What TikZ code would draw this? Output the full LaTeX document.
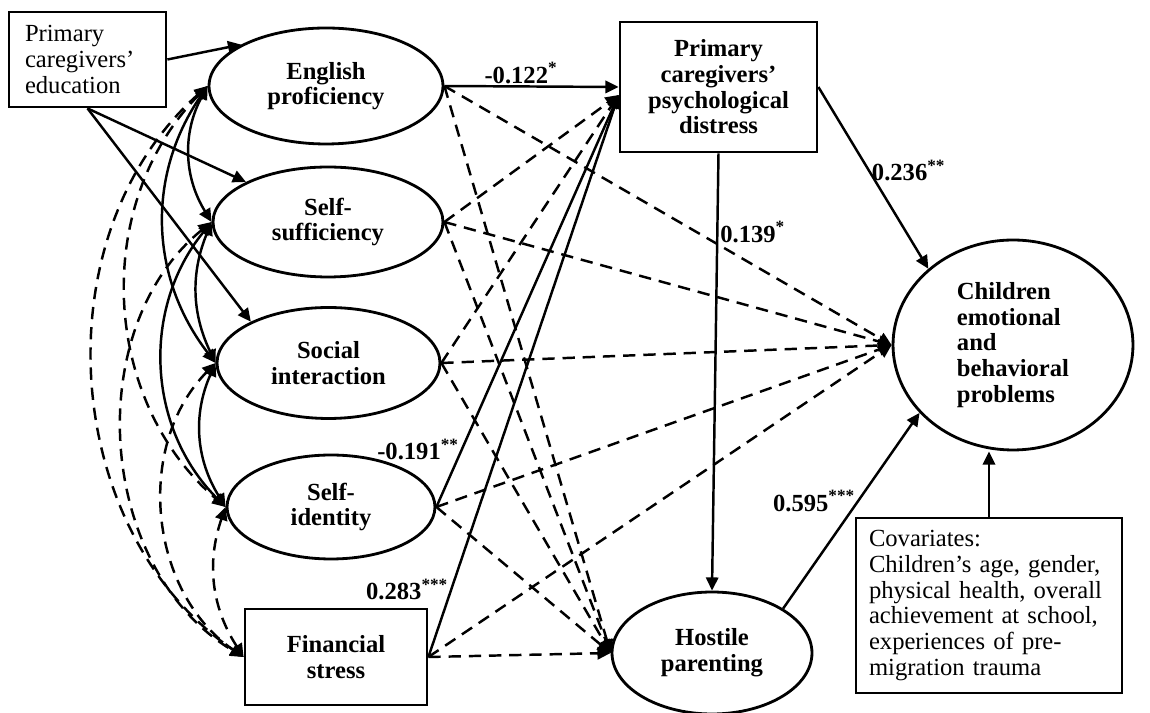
\documentclass[tikz,border=0pt]{standalone}
\usepackage{fontspec}
\setmainfont{Liberation Serif}
\usetikzlibrary{shapes.geometric, arrows.meta}
\newcommand{\figfont}{\fontsize{14}{14.6}\selectfont}

\begin{document}
\begin{tikzpicture}[x=0.02cm, y=0.02cm, font=\figfont,
  Observed/.style={draw, line width=1.6pt, align=center, inner sep=2pt},
  Latent/.style={ellipse, draw, line width=1.6pt, align=center, inner sep=0pt, font=\figfont\bfseries},
  Effect/.style={-{Triangle[length=7.5pt, width=7pt]}, line width=1.4pt},
  Weak/.style={Effect, dash pattern=on 7pt off 4.5pt},
  Covary/.style={{Triangle[length=7.5pt, width=7pt]}-{Triangle[length=7.5pt, width=7pt]}, line width=1.4pt},
  WeakCovary/.style={Covary, dash pattern=on 7pt off 4.5pt},
  Coef/.style={font=\figfont\bfseries, inner sep=1pt}]

\useasboundingbox (0,0) rectangle (1150,713);

\node [Observed, minimum width=3.14cm, minimum height=1.9cm, text width=2.5cm, align=left] (edu) at (87.5,653.5) {Primary\\caregivers'\\education};

\node [Latent, minimum width=4.68cm, minimum height=2.32cm] (eng) at (326,627) {English\\proficiency};
\node [Latent, minimum width=4.6cm, minimum height=2.2cm] (suff) at (328,491) {Self-\\sufficiency};
\node [Latent, minimum width=4.46cm, minimum height=2.22cm] (soc) at (328.5,350) {Social\\interaction};
\node [Latent, minimum width=4.16cm, minimum height=2.08cm] (iden) at (331,206) {Self-\\identity};
\node [Observed, font=\figfont\bfseries, minimum width=3.64cm, minimum height=1.92cm] (fin) at (336,56) {Financial\\stress};

\node [Observed, font=\figfont\bfseries, minimum width=3.94cm, minimum height=2.6cm] (dist) at (718.5,626) {Primary\\caregivers'\\psychological\\distress};
\node [Latent, minimum width=4cm, minimum height=2.44cm] (host) at (712,60) {Hostile\\parenting};
\node [Latent, minimum width=4.8cm, minimum height=4.2cm, align=left] (child) at (1013,368) {Children\\emotional\\and\\behavioral\\problems};
\node [Observed, minimum width=5.32cm, minimum height=3.5cm, text width=4.8cm, align=left] (cov) at (989,107.5) {Covariates:\\Children's age, gender,\\physical health, overall\\achievement at school,\\experiences of pre-\\migration trauma};

\coordinate (distin) at ([yshift=-0.16cm]dist.west);

% paths
\draw [Effect] (edu.east) -- (eng.154);
\draw [Effect] (edu.south) -- (suff.154);
\draw [Effect] (edu.south) -- (soc.152);
\draw [Effect] (eng.east) -- node [Coef, above, pos=0.44] {-0.122\textsuperscript{*}} (dist.west);
\draw [Effect] (iden.east) -- node [Coef, left, pos=0.14] {-0.191\textsuperscript{**}} (distin);
\draw [Effect] (fin.east) -- node [Coef, left, pos=0.12] {0.283\textsuperscript{***}} (distin);
\draw [Weak] (suff.east) -- (distin);
\draw [Weak] (soc.east) -- (distin);

\foreach \src in {eng, suff, soc, iden, fin} {
  \draw [Weak] (\src.east) -- (child.west);
  \draw [Weak] (\src.east) -- (host.west);
}

\draw [Effect] (dist.south) -- node [Coef, right, pos=0.18] {0.139\textsuperscript{*}} (host.north);
\draw [Effect] (dist.east) -- node [Coef, right, pos=0.46] {0.236\textsuperscript{**}} (child.138);
\draw [Effect] (host.32) -- node [Coef, left, pos=0.55] {0.595\textsuperscript{***}} (child.216);
\draw [Effect] (cov.north) -- (cov.north |- child.south);

% correlations
\draw [Covary] (eng.west) to [bend right=30] (suff.west);
\draw [Covary] (eng.west) to [bend right=36] (soc.west);
\draw [Covary] (suff.west) to [bend right=24] (soc.west);
\draw [Covary] (suff.west) to [bend right=42] (iden.west);
\draw [Covary] (soc.west) to [bend right=28] (iden.west);
\draw [WeakCovary] (eng.west) to [bend right=52] (fin.west);
\draw [WeakCovary] (eng.west) to [bend right=47] (iden.west);
\draw [WeakCovary] (suff.west) to [bend right=55] (fin.west);
\draw [WeakCovary] (soc.west) to [bend right=50] (fin.west);
\draw [WeakCovary] (iden.west) to [bend right=26] (fin.west);
\end{tikzpicture}
\end{document}
